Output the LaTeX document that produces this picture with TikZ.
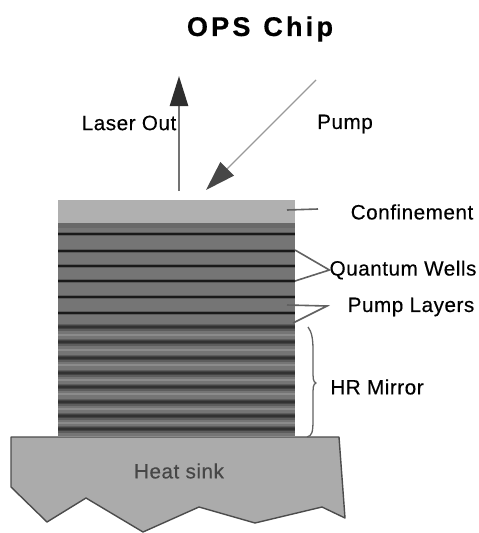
\documentclass[tikz,border=0pt]{standalone}
\usepackage{fontspec}
\setmainfont{Liberation Sans}
\newfontfamily\titlefont[LetterSpace=12,WordSpace=1.2,FakeBold=0.6]{Liberation Sans Bold}
\newfontfamily\labelfont[LetterSpace=2.5,FakeBold=0.35]{Liberation Sans}
\usetikzlibrary{arrows.meta}
\definecolor{confgray}{gray}{0.69}
\definecolor{stackgray}{gray}{0.46}
\definecolor{sinkgray}{gray}{0.67}
\definecolor{edgegray}{gray}{0.3}
\definecolor{leadgray}{gray}{0.38}
\tikzset{
  lab/.style={font=\labelfont\fontsize{20.7}{23}\selectfont,text=black,inner sep=0pt,anchor=center},
  leadline/.style={draw=leadgray,line width=1.6pt},
  darkband/.style={draw=black,line width=1.8pt,draw opacity=0.72},
  softband/.style={draw=black,line width=4.5pt,draw opacity=0.22},
  mirrorouter/.style={draw=black,line width=7pt,draw opacity=0.2},
  mirrormid/.style={draw=black,line width=4.5pt,draw opacity=0.28},
  mirrorcore/.style={draw=black,line width=2pt,draw opacity=0.25},
  lightband/.style={draw=white,line width=2.5pt,draw opacity=0.16},
}
\newcommand{\band}[1]{%
  \path[softband] (58,#1) -- (295,#1);
  \path[darkband] (58,#1) -- (295,#1);}
\newcommand{\mirrorb}[1]{%
  \path[mirrorouter] (58,#1) -- (295,#1);
  \path[mirrormid] (58,#1) -- (295,#1);
  \path[mirrorcore] (58,#1) -- (295,#1);}
\newcommand{\lightb}[1]{\path[lightband] (58,#1) -- (295,#1);}
\begin{document}
\begin{tikzpicture}[x=1pt,y=-1pt]
\useasboundingbox (0,0) rectangle (479,533);
% title
\node[inner sep=0pt] (title) at (260,29) {\titlefont\fontsize{27}{30}\selectfont OPS Chip};
% chip stack
\fill[stackgray] (58,222) rectangle (295,436);
\fill[confgray] (58,200) rectangle (295,223);
\fill[black,opacity=0.1] (58,223) rectangle (295,228);
\foreach \y in {234,251,266,281,297,313} {\band{\y}}
\foreach \y in {327,342,358,373,387,402,416,429} {\mirrorb{\y}}
\foreach \y in {335,350,365,380,394,409,423} {\lightb{\y}}
% heat sink
\draw[fill=sinkgray,draw=edgegray,line width=1.4pt,line join=round]
  (11,437) -- (339,437) -- (345,518) -- (322,507) -- (255,523) -- (199,507)
  -- (143,532) -- (86,498) -- (47,522) -- (11,487) -- cycle;
\node[lab,text=black!72] (sink) at (179,471) {Heat sink};
% labels
\node[lab] (laser) at (129,123) {Laser Out};
\node[lab] (pump) at (345,124) {Pump};
\node[lab] (conf) at (412,212) {Confinement};
\node[lab] (qw) at (403,270) {Quantum Wells};
\node[lab] (pl) at (411,307) {Pump Layers};
\node[lab] (hr) at (377,387) {HR Mirror};
% arrows
\coordinate (outS) at (179,191);
\coordinate (outE) at (179,76);
\coordinate (pumpS) at (316,80);
\coordinate (pumpE) at (206,190);
\draw[draw=black!55,line width=2.6pt,-{Triangle[length=30pt,width=18pt,color=black!82]}] (outS) -- (outE);
\draw[draw=black!40,line width=1.4pt,-{Triangle[length=30pt,width=19pt,color=black!72]}] (pumpS) -- (pumpE);
% leaders
\coordinate (confA) at (287,210);
\coordinate (confB) at (318,209);
\coordinate (qwA) at (295,250);
\coordinate (qwB) at (295,281);
\coordinate (plA) at (287,305);
\coordinate (plB) at (293,323);
\coordinate (plT) at (327,306);
\draw[leadline] (confA) -- (confB);
\draw[leadline] (qwA) -- (qw.west) -- (qwB);
\draw[leadline] (plA) -- (plT) -- (plB);
% brace
\coordinate (brT) at (308,327);
\coordinate (brB) at (307,437);
\coordinate (brM) at (316,383);
\draw[draw=leadgray,line width=1.3pt,line join=round]
  (brT) .. controls (312,332) and (313,340) .. (313,350)
  -- (313,370) .. controls (313,378) and (313,382) .. (brM)
  .. controls (313,384) and (313,388) .. (313,396)
  -- (313,420) .. controls (313,432) and (312,436) .. (brB);
\end{tikzpicture}
\end{document}
